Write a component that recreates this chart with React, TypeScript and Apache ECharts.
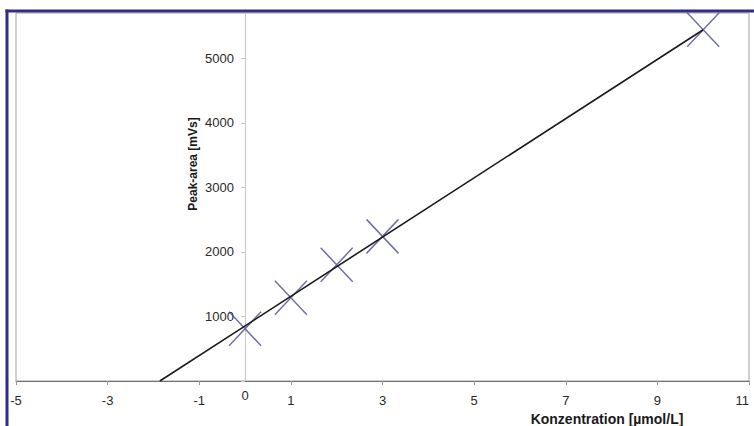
import React, { useEffect, useRef } from "react";
import * as echarts from "echarts";

const concentrations = [0, 1, 2, 3, 10];
const peakAreas = [810, 1290, 1800, 2240, 5440];
const trendX = [-1.86, 10];
const trendY = [0, 5440];
const xTicks = { min: -5, max: 11, interval: 2 };
const yTicks = { min: 0, max: 5700, interval: 1000 };
const xTitle = "Konzentration [µmol/L]";
const yTitle = "Peak-area [mVs]";
const originLabel = "0";

const FONT = "'Liberation Sans', Arial, Helvetica, sans-serif";

export default function App() {
  const ref = useRef<HTMLDivElement>(null);
  useEffect(() => {
    if (!ref.current) return;
    const chart = echarts.init(ref.current, undefined, { renderer: "svg" });
    chart.setOption({
      animation: false,
      backgroundColor: "#ffffff",
      grid: {
        left: 16,
        right: 5,
        top: 13,
        bottom: 45,
        containLabel: false,
        outerBoundsMode: "none",
        show: true,
        borderColor: "#a0a0a0",
        borderWidth: 1,
        backgroundColor: "transparent",
      },
      xAxis: {
        type: "value",
        min: xTicks.min,
        max: xTicks.max,
        interval: xTicks.interval,
        axisLine: { show: true, onZero: false, lineStyle: { color: "#707070", width: 1 } },
        axisTick: { show: true, length: 4, lineStyle: { color: "#999" } },
        splitLine: { show: false },
        axisLabel: {
          color: "#2a2a2a",
          fontFamily: FONT,
          fontSize: 13,
          margin: 13,
          alignMaxLabel: "right",
        },
      },
      yAxis: {
        type: "value",
        min: yTicks.min,
        max: yTicks.max,
        interval: yTicks.interval,
        position: "left",
        offset: -229,
        axisLine: { show: true, onZero: false, lineStyle: { color: "#c8c8c8", width: 1 } },
        axisTick: { show: true, length: 4, lineStyle: { color: "#c8c8c8" } },
        splitLine: { show: false },
        axisLabel: {
          color: "#2a2a2a",
          fontFamily: FONT,
          fontSize: 13,
          margin: 11,
          formatter: (v: number) => (v === 0 || v % 1000 !== 0 ? "" : String(v)),
        },
      },
      series: [
        {
          type: "line",
          data: trendX.map((x, i) => [x, trendY[i]]),
          showSymbol: false,
          symbol: "none",
          lineStyle: { color: "#1a1a1a", width: 1.6 },
          z: 3,
        },
        {
          type: "scatter",
          data: concentrations.map((x, i) => [x, peakAreas[i]]),
          symbol: "path://M0,0L32,34M32,0L0,34",
          symbolSize: [32, 34],
          itemStyle: { color: "none", borderColor: "#4a4a8e", borderWidth: 1.5 },
          z: 2,
        },
      ],
      graphic: [
        {
          type: "text",
          x: 193,
          y: 164,
          rotation: Math.PI / 2,
          style: {
            text: yTitle,
            align: "center",
            verticalAlign: "middle",
            font: `bold 12px ${FONT}`,
            fill: "#1a1a1a",
          },
        },
        {
          type: "text",
          x: 607,
          y: 419,
          style: {
            text: xTitle,
            align: "center",
            verticalAlign: "middle",
            font: `bold 14px ${FONT}`,
            fill: "#1a1a1a",
          },
        },
        {
          type: "text",
          x: 245,
          y: 395,
          style: {
            text: originLabel,
            align: "center",
            verticalAlign: "middle",
            font: `13px ${FONT}`,
            fill: "#2a2a2a",
          },
        },
        {
          type: "line",
          shape: { x1: 5.5, y1: 11, x2: 754, y2: 11 },
          style: { stroke: "#302c8c", lineWidth: 3 },
          z: 100,
        },
        {
          type: "line",
          shape: { x1: 7, y1: 9.5, x2: 7, y2: 426 },
          style: { stroke: "#302c8c", lineWidth: 3 },
          z: 100,
        },
      ],
    });
    return () => chart.dispose();
  }, []);
  return (
    <div
      ref={ref}
      style={{ position: "absolute", left: 0, top: 0, width: 754, height: 426 }}
    />
  );
}
